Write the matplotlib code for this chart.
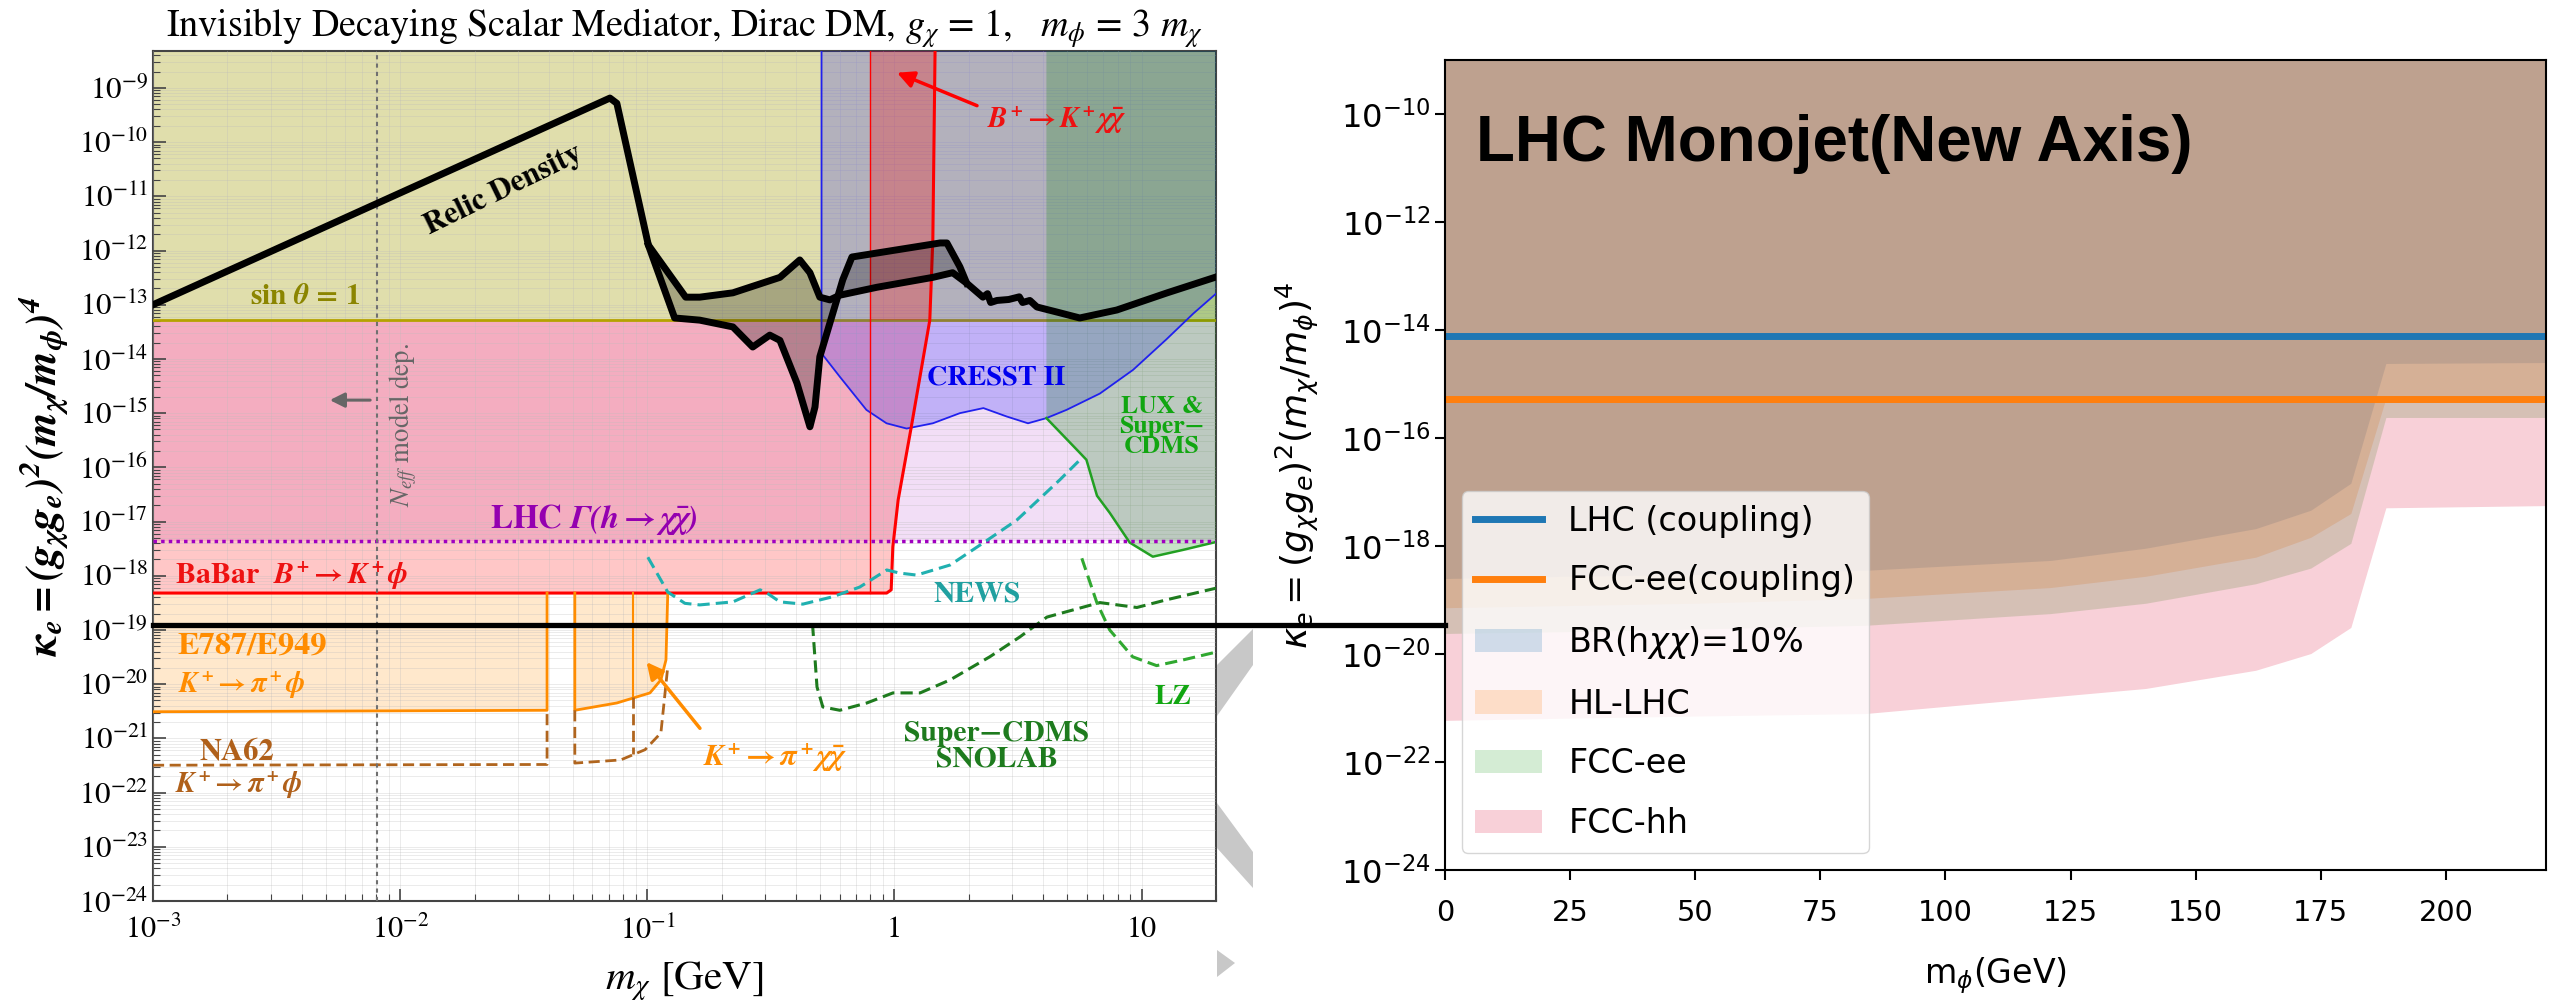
import numpy as np
import matplotlib
matplotlib.use("Agg")
import matplotlib.pyplot as plt
from matplotlib.lines import Line2D
from matplotlib.patches import Polygon
from matplotlib.ticker import LogLocator, NullLocator, NullFormatter, FixedLocator, FixedFormatter

plt.rcParams['font.family'] = 'STIXGeneral'
plt.rcParams['mathtext.fontset'] = 'custom'
plt.rcParams['mathtext.rm'] = 'STIXGeneral'
plt.rcParams['mathtext.it'] = 'STIXGeneral:italic'
plt.rcParams['mathtext.bf'] = 'STIXGeneral:italic:bold'
plt.rcParams['mathtext.fallback'] = 'stix'

# ---------------- left panel: m_chi [GeV] vs kappa_e ----------------
relic_x = [1e-3, 0.0706, 0.0753, 0.101, 0.143, 0.163, 0.222, 0.344, 0.414, 0.455, 0.499,
           0.548, 0.601, 0.849, 1.43, 1.72, 1.96, 2.28, 2.38, 2.45, 2.6, 2.9, 3.2, 3.3,
           3.53, 3.77, 4.67, 5.62, 7.94, 12.7, 19.8]
relic_y = [1.0e-13, 6.5e-10, 5.2e-10, 1.26e-12, 1.38e-13, 1.38e-13, 1.66e-13, 3.2e-13, 6.7e-13,
           3.9e-13, 1.38e-13, 1.23e-13, 1.5e-13, 2.1e-13, 3.2e-13, 3.9e-13, 2.5e-13, 1.38e-13,
           1.6e-13, 1.1e-13, 1.2e-13, 1.25e-13, 1.4e-13, 1.1e-13, 1.2e-13, 9.1e-14, 7.1e-14,
           5.7e-14, 8.0e-14, 1.66e-13, 3.2e-13]
relic2_x = [0.101, 0.129, 0.163, 0.222, 0.267, 0.313, 0.344, 0.403, 0.455, 0.477, 0.499,
            0.548, 0.618, 0.673, 1.53, 1.63, 1.84, 1.96]
relic2_y = [1.26e-12, 5.7e-14, 5.2e-14, 3.9e-14, 1.66e-14, 2.75e-14, 2.2e-14, 3.6e-15, 5.6e-16,
            1.3e-15, 1.1e-14, 4.6e-14, 2.9e-13, 7.6e-13, 1.38e-12, 1.38e-12, 5.0e-13, 2.5e-13]

sin_level = 5.2e-14
lhc_width_level = 4.4e-18
babar_level = 4.8e-19
bkxx_left = 0.8
neff_x = 8.05e-3

babar_x = [1e-3, 0.93, 0.97, 0.985, 1.035, 1.17, 1.39, 1.43, 1.46]
babar_y = [4.8e-19, 4.8e-19, 5.5e-19, 3.4e-18, 2.5e-17, 5.6e-16, 5.2e-14, 1.6e-12, 5e-9]

cresst_x = [0.507, 0.601, 0.770, 0.929, 1.12, 1.43, 1.84, 2.29, 2.84, 3.47, 4.12, 4.97,
            6.78, 9.24, 12.6, 16.2, 20.0]
cresst_y = [1.27e-14, 4.7e-15, 1.15e-15, 6.5e-16, 5.2e-16, 6.5e-16, 1.0e-15, 1.24e-15,
            8.7e-16, 6.5e-16, 8.1e-16, 1.15e-15, 2.3e-15, 6.3e-15, 2.3e-14, 6.9e-14, 1.6e-13]

lux_x = [4.12, 5.62, 5.98, 6.6, 7.43, 8.95, 11.1, 14.7, 20.0]
lux_y = [8.1e-16, 1.86e-16, 1.38e-16, 3.0e-17, 1.45e-17, 4.1e-18, 2.25e-18, 3.0e-18, 4.2e-18]

news_x = [0.1005, 0.121, 0.142, 0.163, 0.222, 0.286, 0.305, 0.344, 0.426, 0.563, 0.724,
          0.931, 1.05, 1.23, 1.68, 2.28, 3.13, 4.67, 5.78]
news_y = [2.2e-18, 5.0e-19, 3.1e-19, 2.9e-19, 3.3e-19, 5.5e-19, 4.8e-19, 3.3e-19, 3.0e-19,
          4.1e-19, 6.2e-19, 1.28e-18, 1.12e-18, 1.03e-18, 1.58e-18, 4.0e-18, 1.07e-17,
          5.9e-17, 1.55e-16]

cdms_x = [0.466, 0.468, 0.486, 0.513, 0.601, 0.773, 0.986, 1.27, 1.68, 2.43, 3.21, 4.14,
          6.78, 9.57, 12.6, 20.0]
cdms_y = [1.3e-19, 1.0e-19, 8.9e-21, 3.8e-21, 3.3e-21, 4.5e-21, 6.9e-21, 6.9e-21, 1.2e-20,
          3.2e-20, 7.4e-20, 1.73e-19, 3.2e-19, 2.6e-19, 3.6e-19, 5.9e-19]

lz_x = [5.73, 6.59, 7.43, 9.2, 11.5, 14.7, 20.0]
lz_y = [2.1e-18, 3.2e-19, 1.0e-19, 3.2e-20, 2.2e-20, 2.8e-20, 3.9e-20]

e787a_x = [1e-3, 0.0393]
e787a_y = [3.1e-21, 3.3e-21]
e787b_x = [0.0509, 0.0753, 0.1025, 0.1135, 0.119, 0.121]
e787b_y = [3.3e-21, 4.5e-21, 6.9e-21, 1.2e-20, 2.8e-20, 4.8e-19]
e787_mid_x = 0.0875
e787_mid_y = [5.8e-21, 4.8e-19]

na62a_x = [1e-3, 0.0393, 0.0393]
na62a_y = [3.2e-22, 3.3e-22, 3.3e-21]
na62b_x = [0.0509, 0.0509, 0.078, 0.098, 0.1135, 0.121]
na62b_y = [3.3e-21, 3.5e-22, 4.0e-22, 6.2e-22, 1.26e-21, 2.1e-20]
na62_mid_y = [5.8e-21, 5.2e-22]

# ---------------- right panel: m_phi [GeV] ----------------
mphi = [0, 25, 50, 84, 121, 140, 162, 173, 181, 188, 220]
br10 = [2.5e-19, 2.75e-19, 2.95e-19, 3.55e-19, 5.4e-19, 9.1e-19, 2.1e-18, 4.6e-18, 1.45e-17, 2.4e-15, 2.5e-15]
hllhc = [7.2e-20, 7.9e-20, 8.7e-20, 1.07e-19, 1.7e-19, 2.75e-19, 6.2e-19, 1.45e-18, 4.0e-18, 5.4e-16, 5.4e-16]
fccee = [2.4e-20, 2.6e-20, 2.9e-20, 3.4e-20, 5.6e-20, 8.7e-20, 2.0e-19, 3.9e-19, 1.12e-18, 2.4e-16, 2.4e-16]
fcchh = [5.9e-22, 6.5e-22, 7.1e-22, 7.9e-22, 1.6e-21, 2.3e-21, 5.0e-21, 1.02e-20, 3.1e-20, 5.1e-18, 5.6e-18]
lhc_coupling = 7.6e-15
fccee_coupling = 5.3e-16

W, H = 2561, 1000
fig = plt.figure(figsize=(W / 100, H / 100), dpi=100)
fits = []  # (text, target size in px, 'w' or 'h')

# ================= left panel =================
ax = fig.add_axes([153 / W, 1 - 901 / H, (1216 - 153) / W, (901 - 51) / H])
ax.set_xscale('log')
ax.set_yscale('log')
ax.set_xlim(1e-3, 20)
top = 4.8e-9
ax.set_ylim(1e-24, top)

ax.fill_between([1e-3, 20], lhc_width_level, top, color='#A000C0', alpha=0.13, lw=0, zorder=1)
ax.fill(babar_x + [1e-3], babar_y + [top], color='red', alpha=0.22, lw=0, zorder=1)
ax.fill_between(e787a_x, e787a_y, babar_level, color='#FF8C00', alpha=0.2, lw=0, zorder=1)
ax.fill(e787b_x + [e787b_x[0]], e787b_y + [babar_level], color='#FF8C00', alpha=0.2, lw=0, zorder=1)

ax.fill_between([1e-3, 20], sin_level, top, color='#E0DEAC', lw=0, zorder=2)
ax.axhline(sin_level, color='#B5A200', lw=2, zorder=2.6)

ax.fill([cresst_x[0]] + cresst_x + [20], [top] + cresst_y + [top], color='blue', alpha=0.2, lw=0, zorder=3)
ax.plot([cresst_x[0]] + cresst_x, [top] + cresst_y, color='#2020EE', lw=1.3, zorder=3.5)

col_x = [bkxx_left] + [x for x, y in zip(babar_x, babar_y) if y >= sin_level] + [bkxx_left]
col_y = [sin_level] + [y for y in babar_y if y >= sin_level] + [top]
ax.fill(col_x, col_y, color='red', alpha=0.25, lw=0, zorder=3)
ax.plot([bkxx_left, bkxx_left], [babar_level, top], color='red', lw=1, zorder=3.5)

ax.fill([lux_x[0]] + lux_x + [20], [top] + lux_y + [top], color='green', alpha=0.22, lw=0, zorder=3)
ax.plot(lux_x, lux_y, color='#22A022', lw=1.8, zorder=3.5)

ax.plot(babar_x, babar_y, color='red', lw=2.2, zorder=4)
ax.plot(e787a_x + [e787a_x[-1]], e787a_y + [babar_level], color='#FF8C00', lw=2, zorder=4)
ax.plot([e787b_x[0]] + e787b_x, [babar_level] + e787b_y, color='#FF8C00', lw=2, zorder=4)
ax.plot([e787_mid_x] * 2, e787_mid_y, color='#FF8C00', lw=1.5, zorder=4)

ax.plot(na62a_x, na62a_y, color='#B0651E', lw=2, ls=(0, (4, 2)), zorder=4)
ax.plot(na62b_x, na62b_y, color='#B0651E', lw=2, ls=(0, (4, 2)), zorder=4)
ax.plot([e787_mid_x] * 2, na62_mid_y, color='#B0651E', lw=2, ls=(0, (4, 2)), zorder=4)

ax.axhline(lhc_width_level, color='#A000C0', lw=2.5, ls=(0, (1, 1.2)), zorder=4)
ax.plot(news_x, news_y, color='#20B0B0', lw=2.2, ls=(0, (4, 2)), zorder=4)
ax.plot(cdms_x, cdms_y, color='#1E7B1E', lw=2.2, ls=(0, (4, 2)), zorder=4)
ax.plot(lz_x, lz_y, color='#30A830', lw=2.2, ls=(0, (4, 2)), zorder=4)
ax.axvline(neff_x, color='#707070', lw=1.5, ls=(0, (2, 2)), zorder=4)

a = relic_x.index(0.101)
b = relic_x.index(1.96)
ax.fill(relic_x[a:b + 1] + relic2_x[::-1], relic_y[a:b + 1] + relic2_y[::-1],
        color='k', alpha=0.25, lw=0, zorder=5)
ax.plot(relic_x, relic_y, color='k', lw=5, zorder=6, solid_joinstyle='round')
ax.plot(relic2_x, relic2_y, color='k', lw=5, zorder=6, solid_joinstyle='round')

# arrows
ax.annotate('', xy=(1.0, 2.0e-9), xytext=(2.21, 4.5e-10),
            arrowprops=dict(arrowstyle='-|>', color='red', lw=2.5, mutation_scale=25), zorder=7)
ax.annotate('', xy=(0.0977, 2.8e-20), xytext=(0.166, 1.4e-21),
            arrowprops=dict(arrowstyle='-|>', color='#FF8C00', lw=2.5, mutation_scale=25), zorder=7)
ax.annotate('', xy=(5.06e-3, 1.74e-15), xytext=(7.76e-3, 1.74e-15),
            arrowprops=dict(arrowstyle='-|>', color='#666666', lw=2.2, mutation_scale=22), zorder=7)

# labels
tk = dict(ha='center', va='center', fontweight='bold', zorder=8)
ax.text(0.0261, 1.3e-11, 'Relic Density', rotation=26, fontsize=22, color='k', **tk)
t = ax.text(4.12e-3, 1.4e-13, r'sin $\mathbf{\theta}$ = 1', color='#8B8500', fontsize=21, **tk)
fits.append((t, 110, 'w'))
t = ax.text(1.026e-2, 6.0e-16, r'$N_{eff}$ model dep.', rotation=90, color='#666666', fontsize=16,
            ha='center', va='center', zorder=8)
fits.append((t, 165, 'h'))
t = ax.text(2.57, 4.5e-15, 'CRESST II', color='#0000EE', fontsize=21, **tk)
fits.append((t, 138, 'w'))
t = ax.text(12.1, 5.6e-16, 'LUX &\nSuper\u2212\nCDMS', color='#11A611', fontsize=20, linespacing=0.9, **tk)
fits.append((t, 85, 'w'))
t = ax.text(0.0608, 1.07e-17, r'LHC $\mathbf{\Gamma(h\rightarrow\chi\bar{\chi})}$', color='#9400B0', fontsize=20, **tk)
fits.append((t, 208, 'w'))
t = ax.text(1.23e-3, 1.0e-18, r'BaBar  $\mathbf{B^+\!\rightarrow K^+\phi}$', color='#EE1111', fontsize=21,
            ha='left', va='center', fontweight='bold', zorder=8)
fits.append((t, 233, 'w'))
t = ax.text(1.26e-3, 5.0e-20, 'E787/E949', color='#FF8C00', fontsize=21, ha='left', va='center',
            fontweight='bold', zorder=8)
fits.append((t, 149, 'w'))
t = ax.text(1.26e-3, 9.7e-21, r'$\mathbf{K^+\!\rightarrow \pi^+\phi}$', color='#FF8C00', fontsize=21,
            ha='left', va='center', zorder=8)
fits.append((t, 127, 'w'))
t = ax.text(2.19e-3, 5.6e-22, 'NA62', color='#B0601A', fontsize=21, **tk)
fits.append((t, 75, 'w'))
t = ax.text(1.23e-3, 1.38e-22, r'$\mathbf{K^+\!\rightarrow \pi^+\phi}$', color='#B0601A', fontsize=21,
            ha='left', va='center', zorder=8)
fits.append((t, 127, 'w'))
t = ax.text(0.328, 4.4e-22, r'$\mathbf{K^+\!\rightarrow \pi^+\chi\bar{\chi}}$', color='#FF8C00', fontsize=21,
            ha='center', va='center', zorder=8)
fits.append((t, 144, 'w'))
t = ax.text(2.15, 4.5e-19, 'NEWS', color='#20A0A0', fontsize=21, **tk)
fits.append((t, 87, 'w'))
t = ax.text(2.6, 7e-22, 'Super\u2212CDMS\nSNOLAB', color='#1E7B1E', fontsize=20, linespacing=1.0, **tk)
fits.append((t, 185, 'w'))
t = ax.text(13.4, 5.6e-21, 'LZ', color='#11A611', fontsize=21, **tk)
fits.append((t, 37, 'w'))
t = ax.text(4.54, 2.6e-10, r'$\mathbf{B^+\!\rightarrow K^+\chi\bar{\chi}}$', color='#EE1111', fontsize=21,
            ha='center', va='center', zorder=8)
fits.append((t, 140, 'w'))

ax.xaxis.set_major_locator(FixedLocator([1e-3, 1e-2, 1e-1, 1, 10]))
ax.xaxis.set_major_formatter(FixedFormatter([r'$10^{-3}$', r'$10^{-2}$', r'$10^{-1}$', '1', '10']))
ax.xaxis.set_minor_locator(LogLocator(base=10, subs=np.arange(2, 10), numticks=100))
ax.xaxis.set_minor_formatter(NullFormatter())
ax.yaxis.set_major_locator(LogLocator(base=10, numticks=40))
ax.yaxis.set_minor_locator(LogLocator(base=10, subs=np.arange(2, 10), numticks=200))
ax.yaxis.set_minor_formatter(NullFormatter())
ax.tick_params(which='both', direction='in', labelsize=22, color='#444444')
ax.tick_params(which='major', length=9, width=1.2)
ax.tick_params(which='minor', length=5, width=0.8)
ax.tick_params(axis='x', pad=11)
ax.grid(which='both', color='#BBBBBB', lw=0.6, alpha=0.35)
ax.set_axisbelow(False)
for s in ax.spines.values():
    s.set_color('#444444')
    s.set_linewidth(1.5)
t = ax.set_title(r'Invisibly Decaying Scalar Mediator, Dirac DM, $g_\chi$ = 1,   $m_\phi$ = 3 $m_\chi$',
                 fontsize=25, pad=10)
fits.append((t, 1037, 'w'))
t = ax.set_xlabel(r'$m_\chi$ [GeV]', fontsize=26, labelpad=10)
fits.append((t, 159, 'w'))
t = ax.set_ylabel(r'$\mathbf{\kappa_e = (g_\chi g_e)^2(m_\chi/m_\phi)^4}$', fontsize=19, labelpad=6)
fits.append((t, 363, 'h'))

# ================= right panel =================
ax2 = fig.add_axes([1445 / W, 1 - 870 / H, (2546 - 1445) / W, (870 - 60) / H])
ax2.set_yscale('log')
ax2.set_xlim(0, 220)
ax2.set_ylim(1e-24, 1e-9)
ax2.plot([0, 220], [lhc_coupling] * 2, color='tab:blue', lw=5, label='LHC (coupling)')
ax2.plot([0, 220], [fccee_coupling] * 2, color='tab:orange', lw=5, label='FCC-ee(coupling)')
ax2.fill_between(mphi, br10, 1e-9, color='tab:blue', alpha=0.2, lw=0, label=r'BR(h$\chi\chi$)=10%')
ax2.fill_between(mphi, hllhc, 1e-9, color='tab:orange', alpha=0.2, lw=0, label='HL-LHC')
ax2.fill_between(mphi, fccee, 1e-9, color='tab:green', alpha=0.2, lw=0, label='FCC-ee')
ax2.fill_between(mphi, fcchh, 1e-9, color='crimson', alpha=0.2, lw=0, label='FCC-hh')
ax2.set_yticks([10.0 ** e for e in range(-24, -9, 2)])
ax2.yaxis.set_minor_locator(NullLocator())
ax2.set_xticks(list(range(0, 201, 25)))
ax2.tick_params(axis='y', labelsize=24, length=7, width=1.5)
ax2.tick_params(axis='x', labelsize=21, length=7, width=1.5, pad=14)
for s in ax2.spines.values():
    s.set_linewidth(1.5)
t = ax2.text(0.028, 0.896, 'LHC Monojet(New Axis)', transform=ax2.transAxes, fontsize=44,
             fontweight='bold', family='Liberation Sans', ha='left', va='center')
fits.append((t, 716, 'w'))
t = ax2.set_ylabel(r'$\kappa_e = (g_\chi g_e)^2(m_\chi/m_\phi)^4$', fontsize=18, family='DejaVu Sans',
                   math_fontfamily='dejavusans', labelpad=14)
fits.append((t, 369, 'h'))
t = ax2.set_xlabel(r'm$_{\phi}$(GeV)', fontsize=22, family='DejaVu Sans',
                   math_fontfamily='dejavusans', labelpad=20)
fits.append((t, 143, 'w'))
leg = ax2.legend(loc='lower left', prop={'family': 'DejaVu Sans', 'size': 24}, labelspacing=0.8)
for t in leg.get_texts():
    t.set_math_fontfamily('dejavusans')

# overlay decorations
grey = '#C8C8C8'
for pts in ([(1217, 665), (1253, 629), (1253, 665), (1217, 716)],
            [(1217, 803), (1253, 852), (1253, 888), (1217, 848)],
            [(1217, 950), (1235, 963), (1217, 977)]):
    fig.add_artist(Polygon([(x / W, 1 - y / H) for x, y in pts], closed=True, color=grey,
                           lw=0, transform=fig.transFigure, zorder=15))
fig.add_artist(Line2D([153 / W, 1445 / W], [1 - 625 / H] * 2, color='k', lw=3.8,
                      transform=fig.transFigure, zorder=20))

# match text sizes to the picture
fig.canvas.draw()
renderer = fig.canvas.get_renderer()
for txt, px, dim in fits:
    bb = txt.get_window_extent(renderer)
    cur = bb.width if dim == 'w' else bb.height
    if cur > 0:
        txt.set_fontsize(txt.get_fontsize() * px / cur)

for lab in ax2.get_xticklabels() + ax2.get_yticklabels():
    lab.set_fontfamily('DejaVu Sans')
    lab.set_math_fontfamily('dejavusans')
fig.canvas.draw()


def widest(labels):
    return max(l.get_window_extent(renderer).width for l in labels if l.get_text())


for axis_obj, which, labels, px in ((ax, 'y', ax.get_yticklabels(), 69),
                                    (ax, 'x', ax.get_xticklabels(), 57),
                                    (ax2, 'y', ax2.get_yticklabels(), 90),
                                    (ax2, 'x', ax2.get_xticklabels(), 55)):
    size = labels[0].get_fontsize()
    axis_obj.tick_params(axis=which, labelsize=size * px / widest(labels))

fig.canvas.draw()
fig.savefig('out.png', dpi=100)
